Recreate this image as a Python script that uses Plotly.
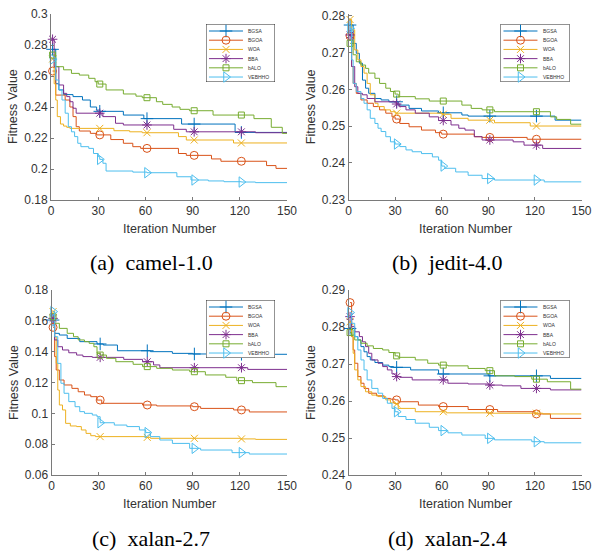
import plotly.graph_objects as go

W, H = 592, 551

names = ["BGSA", "BGOA", "WOA", "BBA", "bALO", "VEBHHO"]
colors = ["#0072BD", "#D95319", "#EDB120", "#7E2F8E", "#77AC30", "#4DBEEE"]
symbols = ["cross-thin-open", "circle-open", "x-thin-open", "asterisk-open",
           "square-open", "triangle-right-open"]
msizes = [9, 8, 7, 8, 6, 9]
marker_iters = [1, 31, 61, 91, 121]
x_ticks = [0, 30, 60, 90, 120, 150]
max_iter = 150

# ---------- (a) camel-1.0 : (iteration, fitness) step points ----------
camel_BGSA = [(1, 0.2772), (3, 0.255), (5, 0.251), (8, 0.248), (14, 0.2467), (20, 0.2445),
              (25, 0.240), (29, 0.238), (31, 0.2372), (46, 0.2348), (59, 0.2325),
              (83, 0.229), (117, 0.2236)]
camel_BGOA = [(1, 0.2632), (3, 0.2477), (9, 0.2445), (12, 0.240), (14, 0.2338), (16, 0.2273),
              (18, 0.2245), (25, 0.223), (29, 0.222), (38, 0.219), (46, 0.2166), (52, 0.2144),
              (57, 0.2133), (81, 0.210), (86, 0.2088), (102, 0.2065), (108, 0.205),
              (137, 0.2022), (143, 0.2004)]
camel_WOA = [(1, 0.271), (2, 0.255), (3, 0.2445), (4, 0.2338), (6, 0.229), (8, 0.2277),
             (10, 0.2269), (12, 0.2262), (40, 0.2247), (50, 0.224), (58, 0.2234),
             (81, 0.2209), (86, 0.2187), (116, 0.2168)]
camel_BBA = [(1, 0.2837), (2, 0.266), (5, 0.2542), (8, 0.2488), (10, 0.2467), (12, 0.2434),
             (14, 0.2392), (16, 0.236), (33, 0.2338), (41, 0.2295), (46, 0.2284),
             (78, 0.2256), (86, 0.224), (130, 0.2234)]
camel_bALO = [(1, 0.2735), (3, 0.266), (8, 0.264), (13, 0.2617), (18, 0.2606), (24, 0.2585),
              (28, 0.2563), (30, 0.2548), (35, 0.251), (46, 0.2484), (54, 0.247), (58, 0.246),
              (67, 0.2434), (71, 0.2417), (77, 0.240), (82, 0.2385), (88, 0.2376),
              (103, 0.2348), (129, 0.2325), (140, 0.2269), (147, 0.223)]
camel_VEBHHO = [(1, 0.2708), (3, 0.2574), (5, 0.251), (7, 0.2445), (9, 0.236), (11, 0.2273),
                (13, 0.224), (15, 0.2209), (17, 0.2166), (19, 0.2144), (24, 0.2133),
                (27, 0.210), (30, 0.208), (31, 0.2062), (33, 0.2037), (35, 0.1987),
                (52, 0.198), (61, 0.1976), (80, 0.195), (89, 0.1929), (100, 0.1923),
                (110, 0.1918), (121, 0.1916), (130, 0.1912)]

# ---------- (b) jedit-4.0 ----------
jedit_BGSA = [(1, 0.2775), (3, 0.2725), (5, 0.2698), (7, 0.2671), (9, 0.2625), (11, 0.2603),
              (13, 0.2589), (17, 0.2575), (21, 0.2571), (26, 0.2566), (32, 0.2557),
              (39, 0.2548), (47, 0.2541), (58, 0.2536), (73, 0.253), (77, 0.2527),
              (133, 0.2516)]
jedit_BGOA = [(1, 0.2745), (2, 0.2662), (3, 0.2616), (5, 0.2589), (8, 0.2571), (12, 0.2562),
              (16, 0.2553), (20, 0.2544), (24, 0.2535), (28, 0.2525), (30, 0.2519),
              (33, 0.2507), (39, 0.2498), (47, 0.2489), (56, 0.2482), (60, 0.2478),
              (81, 0.2471), (86, 0.2469), (115, 0.2464)]
jedit_WOA = [(1, 0.279), (2, 0.2762), (4, 0.2707), (6, 0.268), (8, 0.2662), (10, 0.2644),
             (12, 0.2616), (14, 0.2585), (17, 0.2562), (19, 0.2553), (23, 0.2544),
             (27, 0.2539), (30, 0.2535), (60, 0.2532), (66, 0.2521), (77, 0.2516),
             (94, 0.2509), (117, 0.250)]
jedit_BBA = [(1, 0.2748), (2, 0.2662), (4, 0.2607), (6, 0.2589), (9, 0.2585), (12, 0.2575),
             (17, 0.2566), (31, 0.256), (33, 0.2553), (37, 0.2544), (43, 0.2535),
             (52, 0.2525), (58, 0.2515), (66, 0.2503), (71, 0.2494), (75, 0.2489),
             (81, 0.2471), (86, 0.2462), (106, 0.2457), (113, 0.2448), (125, 0.2439)]
jedit_bALO = [(1, 0.2725), (3, 0.2694), (5, 0.2675), (8, 0.2666), (11, 0.2657), (13, 0.2644),
              (17, 0.263), (20, 0.2616), (24, 0.2603), (27, 0.2594), (30, 0.2587),
              (32, 0.258), (43, 0.2574), (52, 0.2568), (73, 0.2557), (79, 0.2548),
              (86, 0.2544), (94, 0.2539), (130, 0.2525), (134, 0.2518), (143, 0.2505)]
jedit_VEBHHO = [(1, 0.2766), (2, 0.268), (3, 0.2616), (5, 0.2594), (8, 0.2575), (10, 0.2562),
                (12, 0.2544), (14, 0.2521), (17, 0.2507), (19, 0.2494), (21, 0.2485),
                (24, 0.2471), (27, 0.2457), (30, 0.2451), (33, 0.2444), (37, 0.2435),
                (41, 0.243), (47, 0.2425), (54, 0.2416), (58, 0.2407), (60, 0.2391),
                (62, 0.2385), (69, 0.2375), (77, 0.2366), (86, 0.2357), (94, 0.2353),
                (126, 0.2348)]

# ---------- (c) xalan-2.7 ----------
x27_BGSA = [(1, 0.1605), (2, 0.1519), (5, 0.1508), (10, 0.1486), (18, 0.1465), (29, 0.145),
            (33, 0.1443), (42, 0.1406), (63, 0.140), (77, 0.1389), (90, 0.1385),
            (100, 0.1383)]
x27_BGOA = [(1, 0.1558), (2, 0.1368), (3, 0.1281), (5, 0.1216), (8, 0.1184), (13, 0.1162),
            (17, 0.114), (21, 0.1119), (25, 0.1108), (29, 0.1086), (32, 0.1065),
            (58, 0.1054), (67, 0.1048), (90, 0.1043), (95, 0.1032), (116, 0.1022),
            (126, 0.1009)]
x27_WOA = [(1, 0.166), (2, 0.1497), (3, 0.1324), (4, 0.1151), (5, 0.1054), (7, 0.1022),
           (9, 0.0935), (12, 0.0918), (16, 0.0914), (19, 0.0892), (22, 0.087), (25, 0.0855),
           (28, 0.0849), (60, 0.0844), (63, 0.0838), (120, 0.0834), (130, 0.0831)]
x27_BBA = [(1, 0.1616), (2, 0.1476), (4, 0.1432), (7, 0.1411), (11, 0.1393), (16, 0.1378),
           (20, 0.1368), (26, 0.1363), (46, 0.135), (58, 0.1335), (65, 0.1314),
           (69, 0.1296), (125, 0.1285)]
x27_bALO = [(1, 0.1627), (2, 0.1584), (5, 0.1551), (10, 0.1519), (14, 0.1497), (17, 0.1476),
            (21, 0.1465), (24, 0.1454), (27, 0.1432), (29, 0.1389), (31, 0.1378),
            (35, 0.1357), (41, 0.1335), (52, 0.1318), (58, 0.1303), (67, 0.1292),
            (77, 0.1281), (88, 0.127), (98, 0.1249), (111, 0.1234), (118, 0.1212),
            (128, 0.1199), (143, 0.1173)]
x27_VEBHHO = [(1, 0.166), (2, 0.1497), (4, 0.1324), (6, 0.1195), (8, 0.113), (11, 0.1076),
              (15, 0.1043), (18, 0.1011), (21, 0.100), (26, 0.0989), (29, 0.0978),
              (31, 0.0939), (40, 0.0924), (48, 0.0914), (56, 0.0892), (60, 0.0875),
              (63, 0.0849), (69, 0.0827), (77, 0.0805), (88, 0.0773), (95, 0.0762),
              (115, 0.0745), (126, 0.0736)]

# ---------- (d) xalan-2.4 ----------
x24_BGSA = [(1, 0.2796), (4, 0.2774), (6, 0.2765), (8, 0.2747), (10, 0.2733), (12, 0.272),
            (14, 0.2711), (17, 0.2704), (22, 0.2697), (26, 0.2693), (29, 0.2691),
            (40, 0.2684), (58, 0.2673), (90, 0.2668), (130, 0.2661)]
x24_BGOA = [(1, 0.2866), (2, 0.2774), (3, 0.2738), (4, 0.2702), (6, 0.2666), (8, 0.2648),
            (10, 0.2634), (13, 0.2621), (18, 0.2614), (23, 0.2607), (27, 0.2605),
            (30, 0.2603), (32, 0.2598), (45, 0.2589), (58, 0.2585), (77, 0.2577),
            (96, 0.2571), (120, 0.2565), (130, 0.2553)]
x24_WOA = [(1, 0.2814), (2, 0.2774), (3, 0.2729), (4, 0.2684), (6, 0.2657), (8, 0.2639),
           (11, 0.2625), (15, 0.2616), (19, 0.2612), (24, 0.2603), (27, 0.2595),
           (30, 0.2592), (32, 0.258), (43, 0.2571), (63, 0.2568), (90, 0.2567),
           (125, 0.2565)]
x24_BBA = [(1, 0.2828), (2, 0.2801), (4, 0.2787), (7, 0.2774), (9, 0.276), (11, 0.2747),
           (13, 0.2729), (15, 0.2711), (19, 0.2702), (22, 0.2693), (25, 0.2684),
           (28, 0.2673), (31, 0.2666), (33, 0.2664), (41, 0.2657), (64, 0.2648),
           (77, 0.2646), (90, 0.2643), (99, 0.2641), (111, 0.2634), (130, 0.263)]
x24_bALO = [(1, 0.2785), (2, 0.2778), (4, 0.2765), (8, 0.2756), (12, 0.2749), (16, 0.2742),
            (22, 0.2738), (26, 0.2731), (30, 0.2722), (32, 0.2718), (43, 0.2711),
            (51, 0.2702), (58, 0.2697), (64, 0.2695), (77, 0.2688), (88, 0.2682),
            (94, 0.2668), (107, 0.2666), (118, 0.2659), (128, 0.2652), (143, 0.2632)]
x24_VEBHHO = [(1, 0.2839), (2, 0.281), (4, 0.2774), (6, 0.2738), (8, 0.2711), (10, 0.2684),
              (12, 0.2657), (15, 0.2634), (19, 0.2621), (22, 0.2607), (25, 0.2594),
              (28, 0.258), (30, 0.2571), (32, 0.2558), (37, 0.255), (43, 0.254),
              (52, 0.2529), (58, 0.252), (64, 0.2514), (73, 0.2508), (88, 0.2499),
              (94, 0.2495), (118, 0.249), (126, 0.2487)]

# y tick values / labels per panel
camel_yticks = [0.18, 0.20, 0.22, 0.24, 0.26, 0.28, 0.30]
camel_ylabels = ["0.18", "0.2", "0.22", "0.24", "0.26", "0.28", "0.3"]
jedit_yticks = [0.23, 0.24, 0.25, 0.26, 0.27, 0.28]
jedit_ylabels = ["0.23", "0.24", "0.25", "0.26", "0.27", "0.28"]
x27_yticks = [0.06, 0.08, 0.10, 0.12, 0.14, 0.16, 0.18]
x27_ylabels = ["0.06", "0.08", "0.1", "0.12", "0.14", "0.16", "0.18"]
x24_yticks = [0.24, 0.25, 0.26, 0.27, 0.28, 0.29]
x24_ylabels = ["0.24", "0.25", "0.26", "0.27", "0.28", "0.29"]

captions = ["(a)  camel-1.0", "(b)  jedit-4.0", "(c)  xalan-2.7", "(d)  xalan-2.4"]

panels = [
    dict(series=[camel_BGSA, camel_BGOA, camel_WOA, camel_BBA, camel_bALO, camel_VEBHHO],
         yrange=[0.18, 0.30], yt=camel_yticks, yl=camel_ylabels,
         box=(51, 287, 14, 200), capx=151, capy=262),
    dict(series=[jedit_BGSA, jedit_BGOA, jedit_WOA, jedit_BBA, jedit_bALO, jedit_VEBHHO],
         yrange=[0.23, 0.2805], yt=jedit_yticks, yl=jedit_ylabels,
         box=(348.5, 581.5, 14, 199.5), capx=447, capy=262),
    dict(series=[x27_BGSA, x27_BGOA, x27_WOA, x27_BBA, x27_bALO, x27_VEBHHO],
         yrange=[0.06, 0.18], yt=x27_yticks, yl=x27_ylabels,
         box=(51.5, 287, 290, 475), capx=151, capy=538),
    dict(series=[x24_BGSA, x24_BGOA, x24_WOA, x24_BBA, x24_bALO, x24_VEBHHO],
         yrange=[0.24, 0.29], yt=x24_yticks, yl=x24_ylabels,
         box=(348.5, 581.5, 290, 475), capx=447, capy=538),
]


def step_at(pts, k):
    v = pts[0][1]
    for it, val in pts:
        if it <= k:
            v = val
    return v


TEXT = "#333333"
AXC = "#7a7a7a"
fig = go.Figure()
annotations = []
layout = dict(template="none", width=W, height=H, margin=dict(l=0, r=0, t=0, b=0, pad=0),
              paper_bgcolor="white", plot_bgcolor="white", showlegend=False,
              font=dict(family="Liberation Sans", color=TEXT))

for i, p in enumerate(panels, start=1):
    x0, x1, yt, yb = p["box"]
    xa = "x" if i == 1 else f"x{i}"
    ya = "y" if i == 1 else f"y{i}"
    layout["xaxis" if i == 1 else f"xaxis{i}"] = dict(
        domain=[x0 / W, x1 / W], anchor=ya, range=[0, max_iter], automargin=False,
        tickvals=x_ticks, ticktext=[str(t) for t in x_ticks], ticklabeloverflow="allow",
        ticks="inside", ticklen=3, tickcolor=AXC, showline=True, linecolor=AXC,
        linewidth=1, showgrid=False, zeroline=False,
        tickfont=dict(size=12, color=TEXT, family="Liberation Sans"))
    layout["yaxis" if i == 1 else f"yaxis{i}"] = dict(
        domain=[1 - yb / H, 1 - yt / H], anchor=xa, range=p["yrange"], automargin=False,
        tickvals=p["yt"], ticktext=p["yl"], ticklabeloverflow="allow",
        ticks="inside", ticklen=3, tickcolor=AXC, showline=True, linecolor=AXC,
        linewidth=1, showgrid=False, zeroline=False,
        tickfont=dict(size=12, color=TEXT, family="Liberation Sans"))

    for s, pts in enumerate(p["series"]):
        xs = [q[0] for q in pts] + [max_iter]
        ys = [q[1] for q in pts] + [pts[-1][1]]
        fig.add_trace(go.Scatter(x=xs, y=ys, mode="lines", xaxis=xa, yaxis=ya,
                                 line=dict(color=colors[s], width=1, shape="hv"),
                                 hoverinfo="skip", name=names[s]))
        fig.add_trace(go.Scatter(x=marker_iters, y=[step_at(pts, k) for k in marker_iters],
                                 mode="markers", xaxis=xa, yaxis=ya, cliponaxis=False,
                                 marker=dict(symbol=symbols[s], size=msizes[s], color=colors[s],
                                             line=dict(color=colors[s], width=1)),
                                 hoverinfo="skip", name=names[s]))

    # axis titles
    annotations.append(dict(text="Iteration Number", xref="paper", yref="paper",
                            x=(x0 + x1) / 2 / W, y=1 - (yb + 29) / H, showarrow=False,
                            xanchor="center", yanchor="middle",
                            font=dict(size=12.5, color=TEXT, family="Liberation Sans")))
    annotations.append(dict(text="Fitness Value", xref="paper", yref="paper",
                            x=(x0 - 38) / W, y=1 - (yt + yb) / 2 / H, showarrow=False,
                            textangle=-90, xanchor="center", yanchor="middle",
                            font=dict(size=12.5, color=TEXT, family="Liberation Sans")))
    annotations.append(dict(text=captions[i - 1], xref="paper", yref="paper",
                            x=p["capx"] / W, y=1 - p["capy"] / H, showarrow=False,
                            xanchor="center", yanchor="middle",
                            font=dict(size=22, color="black", family="Liberation Serif")))

    # legend drawn in its own small axes
    li = i + 4
    lxa, lya = f"x{li}", f"y{li}"
    lr = x1 - 12
    ll = lr - 69
    ltop = yt + 10
    lbot = ltop + 58
    layout[f"xaxis{li}"] = dict(domain=[ll / W, lr / W], anchor=lya, range=[0, 1],
                                visible=False, fixedrange=True, automargin=False)
    layout[f"yaxis{li}"] = dict(domain=[1 - lbot / H, 1 - ltop / H], anchor=lxa,
                                range=[6.3, 0], visible=False, fixedrange=True,
                                automargin=False)
    fig.add_trace(go.Scatter(x=[0, 1, 1, 0, 0], y=[0, 0, 6.3, 6.3, 0], mode="lines",
                             fill="toself", fillcolor="white", cliponaxis=False,
                             line=dict(color="#262626", width=1), xaxis=lxa, yaxis=lya,
                             hoverinfo="skip"))
    for s in range(len(names)):
        yc = 0.76 + s
        fig.add_trace(go.Scatter(x=[0.043, 0.536], y=[yc, yc], mode="lines",
                                 line=dict(color=colors[s], width=1), xaxis=lxa, yaxis=lya,
                                 hoverinfo="skip"))
        fig.add_trace(go.Scatter(x=[0.29], y=[yc], mode="markers", cliponaxis=False,
                                 marker=dict(symbol=symbols[s], size=msizes[s], color=colors[s],
                                             line=dict(color=colors[s], width=1)),
                                 xaxis=lxa, yaxis=lya, hoverinfo="skip"))
        annotations.append(dict(text=names[s], xref=lxa, yref=lya, x=0.58, y=yc,
                                showarrow=False, xanchor="left", yanchor="middle",
                                font=dict(size=5, color=TEXT, family="Liberation Sans")))

layout["annotations"] = annotations
fig.update_layout(**layout)
fig.write_html("out.html", config={"displayModeBar": False},
               post_script="document.body.style.margin='0';document.body.style.overflow='hidden';")
